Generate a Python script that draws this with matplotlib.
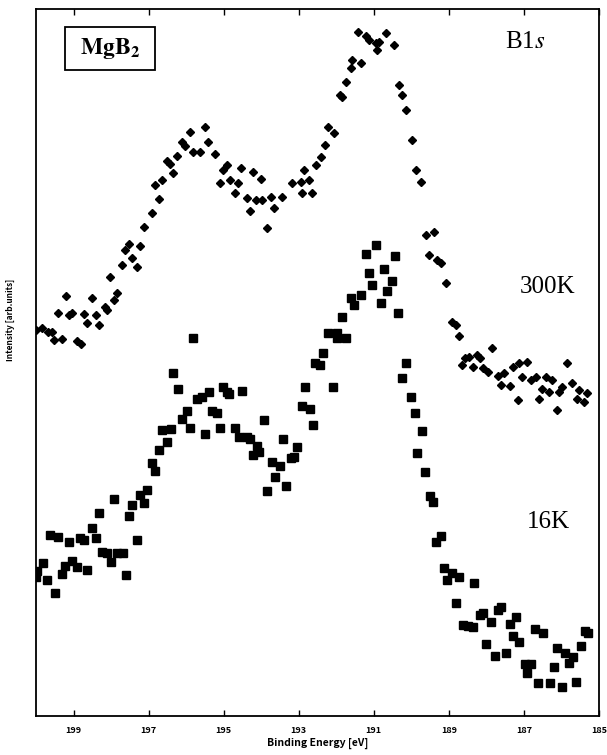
import matplotlib
matplotlib.use("Agg")
import matplotlib.pyplot as plt
from matplotlib.patches import Rectangle

# ====== 資料 (Binding Energy [eV], Intensity [arb. units]) ======
e_300k = [200.0, 199.85, 199.69, 199.58, 199.53, 199.42, 199.32, 199.21, 199.11, 199.03,
          198.92, 198.81, 198.73, 198.63, 198.52, 198.41, 198.33, 198.17, 198.12, 198.04,
          197.93, 197.83, 197.72, 197.64, 197.53, 197.43, 197.32, 197.24, 197.13, 196.92,
          196.84, 196.71, 196.63, 196.50, 196.42, 196.34, 196.23, 196.12, 196.04, 195.91,
          195.83, 195.64, 195.51, 195.43, 195.24, 195.11, 195.03, 194.92, 194.84, 194.71,
          194.63, 194.53, 194.39, 194.31, 194.23, 194.13, 194.00, 193.97, 193.84, 193.73,
          193.65, 193.44, 193.17, 192.93, 192.90, 192.85, 192.72, 192.64, 192.53, 192.40,
          192.31, 192.23, 192.05, 191.91, 191.84, 191.73, 191.60, 191.57, 191.41, 191.33,
          191.20, 191.12, 190.93, 190.91, 190.85, 190.67, 190.45, 190.32, 190.24, 190.13,
          189.98, 189.87, 189.74, 189.60, 189.39, 189.52, 189.31, 189.20, 189.07, 188.91,
          188.80, 188.72, 188.64, 188.58, 188.45, 188.37, 188.26, 188.18, 188.10, 187.97,
          187.84, 187.70, 187.60, 187.52, 187.38, 187.30, 187.17, 187.12, 187.04, 186.93,
          186.80, 186.67, 186.59, 186.51, 186.40, 186.32, 186.24, 186.11, 186.06, 185.98,
          185.85, 185.71, 185.58, 185.52, 185.39, 185.31]
i_300k = [54.6, 54.9, 54.3, 54.3, 53.2, 57.0, 53.3, 59.4, 56.7, 57.0,
          53.0, 52.6, 56.9, 55.6, 59.1, 56.7, 55.3, 57.9, 57.4, 62.1,
          58.8, 59.8, 63.8, 65.9, 66.8, 64.8, 63.5, 66.5, 69.2, 71.1,
          75.1, 73.1, 75.8, 78.5, 78.1, 76.8, 79.2, 81.2, 80.6, 82.6,
          79.8, 79.8, 83.3, 81.2, 79.5, 75.4, 77.2, 77.9, 75.8, 74.0,
          75.4, 77.5, 73.3, 71.4, 76.9, 73.0, 76.0, 73.0, 69.0, 73.4,
          71.9, 73.4, 75.4, 75.5, 74.0, 77.2, 75.8, 74.0, 77.9, 79.1,
          80.8, 83.3, 82.5, 87.8, 87.6, 89.7, 91.7, 92.8, 96.7, 92.4,
          96.2, 95.6, 95.2, 94.2, 95.3, 96.6, 94.9, 89.3, 87.8, 85.7,
          81.5, 77.2, 75.5, 68.0, 68.5, 65.2, 64.5, 64.1, 61.2, 55.7,
          55.3, 53.7, 49.6, 50.6, 50.8, 49.4, 51.1, 50.6, 49.2, 48.7,
          52.1, 48.1, 46.8, 48.5, 46.7, 49.4, 44.7, 49.9, 47.9, 50.1,
          47.5, 47.9, 44.8, 46.3, 47.9, 45.8, 47.5, 43.3, 45.8, 46.5,
          49.9, 47.1, 44.8, 46.1, 44.4, 45.7]

e_16k = [200.0, 199.96, 199.82, 199.72, 199.64, 199.50, 199.42, 199.32, 199.24, 199.13,
         199.03, 198.92, 198.84, 198.71, 198.63, 198.52, 198.41, 198.33, 198.23, 198.12,
         198.01, 197.91, 197.85, 197.69, 197.61, 197.53, 197.43, 197.32, 197.24, 197.11,
         197.03, 196.90, 196.82, 196.71, 196.63, 196.52, 196.39, 196.34, 196.21, 196.10,
         195.99, 195.91, 195.83, 195.72, 195.59, 195.51, 195.40, 195.30, 195.19, 195.11,
         195.03, 194.92, 194.87, 194.71, 194.58, 194.50, 194.39, 194.29, 194.21, 194.10,
         194.05, 193.92, 193.84, 193.70, 193.62, 193.49, 193.41, 193.33, 193.20, 193.12,
         193.04, 192.90, 192.82, 192.69, 192.61, 192.56, 192.42, 192.34, 192.23, 192.10,
         191.99, 191.97, 191.84, 191.73, 191.60, 191.52, 191.33, 191.20, 191.12, 191.04,
         190.93, 190.82, 190.72, 190.64, 190.51, 190.43, 190.35, 190.24, 190.13, 190.00,
         189.90, 189.84, 189.71, 189.63, 189.49, 189.41, 189.33, 189.20, 189.12, 189.04,
         188.91, 188.80, 188.72, 188.61, 188.48, 188.37, 188.34, 188.18, 188.10, 188.00,
         187.89, 187.78, 187.70, 187.60, 187.49, 187.38, 187.30, 187.20, 187.12, 186.96,
         186.91, 186.80, 186.70, 186.62, 186.48, 186.30, 186.19, 186.11, 185.98, 185.90,
         185.79, 185.68, 185.60, 185.47, 185.36, 185.28]
i_16k = [19.7, 20.5, 21.6, 19.2, 25.6, 17.4, 25.3, 20.1, 21.2, 24.6,
         21.9, 21.1, 25.2, 24.9, 20.7, 26.6, 25.2, 28.7, 23.2, 23.1,
         21.8, 30.7, 23.1, 23.1, 19.9, 28.3, 29.8, 24.9, 31.3, 30.1,
         32.0, 35.8, 34.7, 37.6, 40.5, 38.8, 40.6, 48.5, 46.3, 42.0,
         43.1, 40.7, 53.5, 44.8, 45.1, 39.9, 45.8, 43.1, 42.9, 40.7,
         46.5, 45.8, 45.5, 40.7, 39.5, 46.0, 39.5, 39.2, 36.9, 38.2,
         37.3, 41.9, 31.8, 35.9, 33.8, 35.4, 39.2, 32.5, 36.5, 36.6,
         38.0, 43.8, 46.5, 43.4, 41.2, 49.9, 49.6, 51.3, 54.2, 46.5,
         53.5, 54.2, 56.4, 53.5, 59.1, 58.1, 59.5, 65.3, 62.7, 61.0,
         66.6, 58.4, 63.2, 60.1, 61.5, 65.1, 57.0, 47.8, 49.9, 45.1,
         42.9, 37.2, 40.3, 34.5, 31.1, 30.3, 24.6, 25.5, 20.9, 19.2,
         20.2, 16.0, 19.7, 12.9, 12.7, 12.6, 18.8, 14.3, 14.6, 10.2,
         13.3, 8.5, 15.0, 15.4, 8.9, 13.0, 11.3, 14.0, 10.5, 7.4,
         6.1, 7.4, 12.3, 4.7, 11.7, 4.7, 6.9, 9.6, 4.1, 8.9,
         7.5, 8.3, 4.8, 9.9, 12.0, 11.7]

x_ticks = [199, 197, 195, 193, 191, 189, 187, 185]

plt.rcParams['mathtext.fontset'] = 'stix'
tick_font = ['Noto Sans CJK JP', 'DejaVu Sans']
serif_font = ['Liberation Serif', 'DejaVu Serif']

fig = plt.figure(figsize=(6.07, 7.55), dpi=100)
ax = fig.add_axes([0.0593, 0.0517, 0.9275, 0.9364])

ax.plot(e_300k, i_300k, linestyle='none', marker='D', markersize=4.2, color='black')
ax.plot(e_16k, i_16k, linestyle='none', marker='s', markersize=6.3, color='black')

ax.set_xlim(200, 185)
ax.set_ylim(0, 100)
ax.set_xticks(x_ticks)
ax.set_xticklabels([str(t) for t in x_ticks], family=tick_font, fontweight='bold', fontsize=6.5)
ax.set_yticks([])
ax.tick_params(axis='x', direction='in', top=True, length=4, width=1, pad=7)
for sp in ax.spines.values():
    sp.set_linewidth(1.3)

ax.set_xlabel('Binding Energy [eV]', family=tick_font, fontweight='bold', fontsize=7.5, labelpad=2)
ax.set_ylabel('Intensity [arb.units]', family=tick_font, fontweight='bold', fontsize=6)
ax.yaxis.set_label_coords(-0.037, 0.56)

# ====== 標籤 ======
ax.add_patch(Rectangle((0.0515, 0.9137), 0.16, 0.0608, transform=ax.transAxes,
                       fill=False, edgecolor='black', linewidth=1.3))
ax.text(0.131, 0.944, r'$\mathbf{MgB_2}$', transform=ax.transAxes, ha='center', va='center', fontsize=17)
ax.text(0.869, 0.953, r'B1$\mathit{s}$', transform=ax.transAxes, ha='center', va='center',
        fontsize=18, family=serif_font)
ax.text(0.909, 0.607, '300K', transform=ax.transAxes, ha='center', va='center',
        fontsize=18, family=serif_font)
ax.text(0.911, 0.274, '16K', transform=ax.transAxes, ha='center', va='center',
        fontsize=18, family=serif_font)

fig.savefig('out.png', dpi=100)
